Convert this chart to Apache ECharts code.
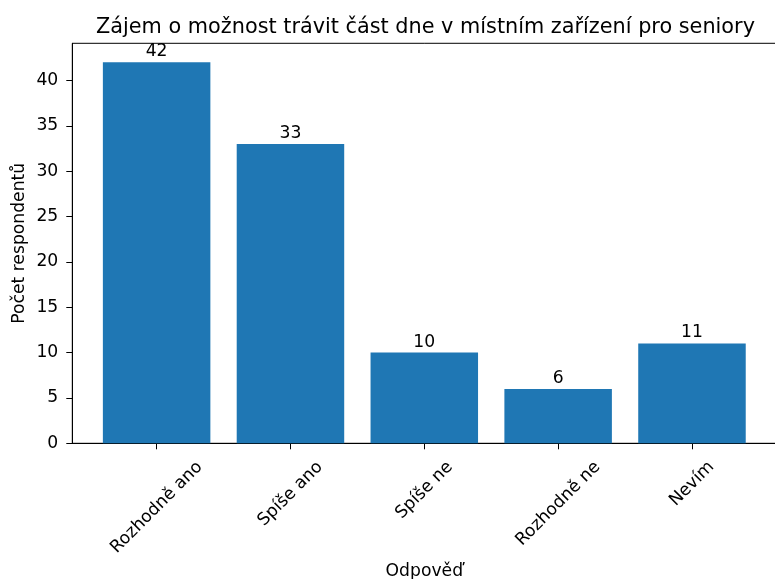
<!DOCTYPE html>
<html>
<head>
<meta charset="utf-8">
<script src="https://cdn.jsdelivr.net/npm/echarts@6/dist/echarts.min.js"></script>
<style>
    html, body { margin: 0; padding: 0; background: #fff; }
    #main { width: 775px; height: 579px; }
</style>
</head>
<body>
<div id="main"></div>
<script>
var categories = ['Rozhodně ano', 'Spíše ano', 'Spíše ne', 'Rozhodně ne', 'Nevím'];
var counts = [42, 33, 10, 6, 11];
var yTicks = [0, 5, 10, 15, 20, 25, 30, 35, 40];
var xTicks = [0, 1, 2, 3, 4];

var FONT = 'DejaVu Sans';
var FS = 17.2;

var chart = echarts.init(document.getElementById('main'));

var barData = categories.map(function(c, i) {
    return [i, counts[i]];
});

var option = {
    backgroundColor: '#fff',
    animation: false,
    title: {
        text: 'Zájem o možnost trávit část dne v místním zařízení pro seniory',
        left: 420.5,
        textAlign: 'center',
        top: 12,
        textStyle: { fontFamily: FONT, fontSize: 20.8, fontWeight: 'normal', color: '#000' }
    },
    grid: {
        left: 72.3,
        top: 43.3,
        width: 704,
        height: 400,
        outerBoundsMode: 'none',
        containLabel: false,
        show: true,
        borderColor: '#000',
        borderWidth: 1
    },
    xAxis: {
        type: 'value',
        min: -0.63,
        max: 4.63,
        name: 'Odpověď',
        nameLocation: 'middle',
        nameGap: 120,
        nameMoveOverlap: false,
        nameTextStyle: { fontFamily: FONT, fontSize: FS, color: '#000' },
        axisLine: { show: true, onZero: false, lineStyle: { color: '#000', width: 1 } },
        axisTick: { show: true, length: 6, customValues: xTicks, lineStyle: { color: '#000' } },
        axisLabel: { show: false },
        splitLine: { show: false }
    },
    yAxis: {
        type: 'value',
        min: 0,
        max: 44.1,
        name: 'Počet respondentů',
        nameLocation: 'middle',
        nameGap: 44,
        nameMoveOverlap: false,
        nameTextStyle: { fontFamily: FONT, fontSize: FS, color: '#000' },
        axisLine: { show: true, onZero: false, lineStyle: { color: '#000', width: 1 } },
        axisTick: { show: true, length: 6, customValues: yTicks, lineStyle: { color: '#000' } },
        axisLabel: {
            customValues: yTicks,
            margin: 14,
            fontFamily: FONT,
            fontSize: FS,
            color: '#000'
        },
        splitLine: { show: false }
    },
    series: [{
        type: 'bar',
        data: barData,
        barWidth: 107.5,
        itemStyle: { color: '#1f77b4' },
        label: {
            show: true,
            position: 'top',
            distance: 2,
            fontFamily: FONT,
            fontSize: FS,
            color: '#000',
            formatter: function(p) { return p.value[1]; }
        }
    }]
};
chart.setOption(option);

// rotated tick labels, centred on the tick like matplotlib does
var ctx = document.createElement('canvas').getContext('2d');
ctx.font = FS + 'px "' + FONT + '"';
var y0 = chart.convertToPixel({ yAxisIndex: 0 }, 0);
var boxH = FS * 1.164;
var labels = categories.map(function(c, i) {
    var w = ctx.measureText(c).width;
    var cx = chart.convertToPixel({ xAxisIndex: 0 }, xTicks[i]);
    var cy = y0 + 14 + (w + boxH) / (2 * Math.SQRT2);
    return {
        type: 'text',
        x: cx,
        y: cy,
        rotation: Math.PI / 4,
        style: {
            text: c,
            fontFamily: FONT,
            fontSize: FS,
            fill: '#000',
            align: 'center',
            verticalAlign: 'middle'
        }
    };
});
chart.setOption({ graphic: labels });
</script>
</body>
</html>
